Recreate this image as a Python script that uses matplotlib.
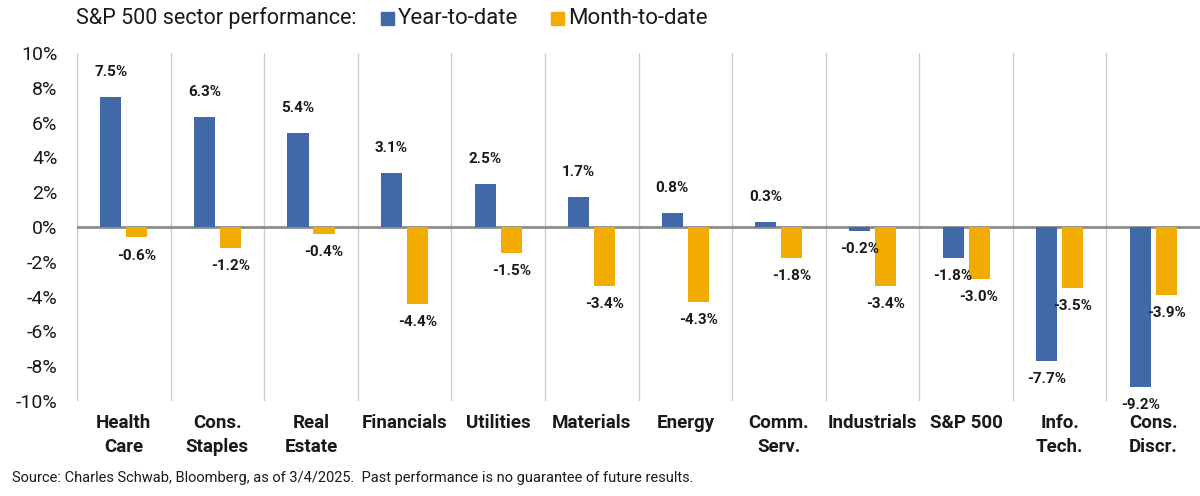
import matplotlib.pyplot as plt
import numpy as np

plt.rcParams["font.family"] = ["Roboto", "DejaVu Sans"]

sectors = ["Health\nCare", "Cons.\nStaples", "Real\nEstate", "Financials", "Utilities",
           "Materials", "Energy", "Comm.\nServ.", "Industrials", "S&P 500",
           "Info.\nTech.", "Cons.\nDiscr."]
ytd = [7.5, 6.3, 5.4, 3.1, 2.5, 1.7, 0.8, 0.3, -0.2, -1.8, -7.7, -9.2]
mtd = [-0.6, -1.2, -0.4, -4.4, -1.5, -3.4, -4.3, -1.8, -3.4, -3.0, -3.5, -3.9]
yticks = [10, 8, 6, 4, 2, 0, -2, -4, -6, -8, -10]

BLUE = "#4169A8"
GOLD = "#F2AB00"
TEXT = "#1a1a1a"

fig = plt.figure(figsize=(12, 4.96), dpi=100)
ax = fig.add_axes([0.0642, 0.1915, 0.9358, 0.7015])

x = np.arange(len(sectors))
w = 0.225
off = 0.139
ax.bar(x - off, ytd, w, color=BLUE, zorder=3)
ax.bar(x + off, mtd, w, color=GOLD, zorder=3)

# value labels
for xs, vals in ((x - off, ytd), (x + off, mtd)):
    for xi, v in zip(xs, vals):
        dy = 18 if v >= 0 else -13
        ax.annotate(f"{v:.1f}%", (xi, v), xytext=(0, dy), textcoords="offset points",
                    ha="center", va="center", fontsize=11, fontweight="bold",
                    color=TEXT, zorder=4)

# category separators and zero line
for k in range(len(sectors)):
    ax.axvline(k - 0.5, color="#cccccc", lw=1, zorder=1)
ax.axhline(0, color="#8c8c8c", lw=2, zorder=2)

ax.set_xlim(-0.5, len(sectors) - 0.5)
ax.set_ylim(-10, 10)
ax.set_yticks(yticks)
ax.set_yticklabels([f"{t}%" for t in yticks], fontsize=14, color=TEXT)
ax.set_xticks([])
ax.tick_params(axis="y", length=0, pad=14)
for s in ax.spines.values():
    s.set_visible(False)

for xi, name in zip(x, sectors):
    ax.text(xi, -10.75, name, ha="center", va="top", fontsize=13.5,
            fontweight="bold", color=TEXT, linespacing=1.45)

# title with legend
fig.text(0.0635, 0.963, "S&P 500 sector performance:", fontsize=15.5,
         color=TEXT, va="center")
fig.patches.append(plt.Rectangle((0.3175, 0.949), 0.011, 0.027, color=BLUE,
                                 transform=fig.transFigure, figure=fig))
fig.text(0.3315, 0.963, "Year-to-date", fontsize=16, color=TEXT, va="center")
fig.patches.append(plt.Rectangle((0.459, 0.949), 0.011, 0.027, color=GOLD,
                                 transform=fig.transFigure, figure=fig))
fig.text(0.4735, 0.963, "Month-to-date", fontsize=16, color=TEXT, va="center")

fig.text(0.01, 0.036, "Source: Charles Schwab, Bloomberg, as of 3/4/2025.  Past performance is no guarantee of future results.",
         fontsize=10.5, color=TEXT, va="center")

fig.savefig("out.png", dpi=100)
